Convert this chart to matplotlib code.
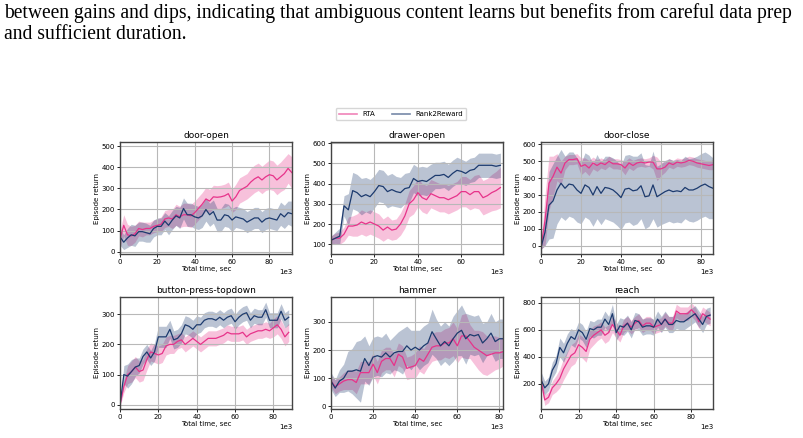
import numpy as np
import matplotlib
matplotlib.use('Agg')
from matplotlib import pyplot as plt
from matplotlib.lines import Line2D
from matplotlib.ticker import MultipleLocator

# time step of the logged curves, in thousands of seconds
step = 2

door_open_rta = [60, 125, 80, 75, 85, 110, 105, 110, 110, 120, 125, 130, 155, 160, 155, 175, 165, 175, 175, 170,
                 185, 205, 225, 250, 240, 260, 258, 260, 265, 275, 240, 260, 290, 300, 310, 330, 345, 355, 340, 355,
                 365, 360, 340, 355, 370, 395, 375]
door_open_rta_std = [40, 50, 50, 45, 40, 35, 35, 30, 30, 30, 30, 35, 40, 40, 45, 50, 50, 55, 55, 55,
                     55, 55, 55, 55, 55, 55, 55, 55, 55, 55, 55, 60, 60, 60, 60, 65, 65, 65, 65, 65,
                     70, 70, 70, 70, 75, 70, 75]
door_open_r2r = [70, 45, 65, 80, 75, 95, 95, 90, 85, 110, 120, 120, 145, 125, 150, 170, 160, 205, 175, 175,
                 165, 160, 170, 200, 175, 190, 150, 150, 175, 170, 150, 165, 160, 155, 140, 150, 160, 160, 140, 155,
                 160, 155, 150, 180, 165, 185, 180]
door_open_r2r_std = [40, 35, 45, 50, 50, 45, 45, 45, 40, 40, 40, 40, 40, 45, 45, 45, 50, 50, 55, 55,
                     55, 55, 55, 55, 55, 55, 55, 55, 55, 55, 55, 50, 50, 50, 50, 50, 50, 50, 50, 50,
                     50, 50, 50, 55, 55, 55, 60]

drawer_open_rta = [120, 130, 130, 150, 190, 190, 195, 210, 200, 210, 200, 190, 170, 185, 170, 175, 200, 240, 300, 320,
                   355, 330, 320, 350, 340, 330, 330, 320, 330, 340, 360, 360, 345, 360, 360, 330, 340, 355, 365, 380]
drawer_open_rta_std = [20, 25, 30, 35, 45, 50, 55, 60, 60, 60, 60, 60, 55, 55, 50, 50, 55, 60, 65, 70,
                       70, 70, 70, 70, 70, 70, 70, 70, 70, 70, 75, 75, 75, 80, 85, 85, 85, 90, 95, 100]
drawer_open_r2r = [120, 130, 140, 290, 270, 365, 355, 335, 345, 335, 360, 390, 385, 360, 370, 360, 355, 375, 380, 425,
                   410, 415, 410, 425, 440, 440, 445, 430, 450, 465, 460, 450, 465, 470, 490, 490, 490, 490, 485, 490]
drawer_open_r2r_std = [20, 30, 40, 50, 80, 90, 90, 90, 85, 85, 80, 80, 80, 80, 80, 75, 75, 75, 75, 70,
                       70, 70, 70, 70, 65, 65, 65, 65, 65, 65, 60, 60, 60, 60, 60, 60, 60, 60, 60, 60]

door_close_rta = [-10, 150, 370, 410, 465, 430, 490, 510, 510, 515, 470, 480, 460, 490, 475, 490, 480, 500, 485, 485,
                  480, 460, 490, 475, 490, 495, 490, 495, 495, 455, 455, 465, 490, 480, 495, 490, 495, 505, 500, 490,
                  485, 480, 475, 480]
door_close_rta_std = [10, 150, 160, 120, 80, 70, 40, 30, 30, 30, 50, 40, 45, 35, 35, 30, 30, 30, 30, 30,
                      30, 40, 30, 30, 25, 25, 25, 25, 40, 70, 40, 30, 25, 25, 25, 25, 25, 25, 25, 25,
                      25, 25, 25, 30]
door_close_r2r = [-10, 80, 240, 265, 330, 370, 340, 365, 360, 330, 310, 360, 345, 300, 350, 310, 345, 340, 330, 310,
                  285, 335, 340, 325, 330, 355, 290, 295, 360, 290, 305, 320, 330, 320, 325, 320, 345, 330, 330, 340,
                  355, 365, 350, 340]
door_close_r2r_std = [10, 80, 200, 220, 200, 200, 190, 190, 195, 190, 180, 190, 190, 185, 190, 185, 185, 190, 190, 190,
                      190, 200, 200, 205, 200, 195, 190, 180, 200, 180, 180, 185, 185, 185, 185, 185, 185, 185, 190, 190,
                      190, 190, 190, 180]

button_rta = [0, 60, 100, 110, 125, 110, 115, 150, 175, 170, 165, 170, 195, 200, 200, 210, 215, 200, 210, 220,
              210, 200, 210, 220, 220, 220, 225, 230, 240, 235, 235, 235, 240, 225, 235, 240, 245, 245, 250, 245,
              255, 265, 250, 225, 240]
button_rta_std = [5, 20, 30, 35, 35, 35, 35, 35, 30, 30, 30, 30, 30, 30, 30, 25, 25, 25, 25, 25,
                  25, 25, 25, 25, 25, 25, 25, 25, 25, 25, 25, 25, 25, 25, 25, 25, 25, 25, 25, 25,
                  30, 30, 30, 30, 30]
button_r2r = [0, 100, 95, 110, 125, 130, 160, 175, 155, 175, 225, 225, 225, 250, 215, 220, 235, 265, 260, 250,
              265, 265, 280, 285, 285, 280, 290, 280, 290, 295, 275, 290, 300, 305, 280, 295, 290, 290, 315, 280,
              280, 280, 310, 280, 290]
button_r2r_std = [5, 30, 40, 40, 30, 25, 25, 25, 25, 30, 35, 35, 35, 30, 30, 30, 30, 30, 30, 30,
                  30, 25, 25, 25, 25, 25, 25, 25, 25, 25, 25, 25, 25, 25, 25, 25, 25, 25, 25, 25,
                  25, 25, 25, 25, 25]

hammer_rta = [90, 70, 80, 90, 95, 95, 85, 120, 120, 120, 150, 120, 160, 170, 170, 145, 185, 175, 135, 140,
              145, 170, 160, 185, 210, 215, 215, 225, 225, 240, 215, 250, 250, 230, 210, 200, 190, 180, 185, 190,
              190, 195]
hammer_rta_std = [20, 25, 25, 30, 35, 35, 40, 40, 40, 40, 40, 40, 40, 40, 40, 40, 40, 40, 40, 40,
                  45, 45, 45, 45, 50, 50, 50, 50, 55, 60, 60, 75, 80, 60, 60, 70, 75, 70, 65, 60,
                  55, 50]
hammer_r2r = [90, 65, 90, 100, 125, 125, 130, 125, 170, 145, 175, 180, 175, 190, 175, 190, 195, 195, 215, 200,
              210, 200, 215, 225, 265, 240, 215, 230, 215, 240, 260, 270, 240, 255, 250, 255, 225, 240, 260, 230,
              240, 240]
hammer_r2r_std = [30, 30, 40, 50, 70, 80, 100, 110, 80, 70, 70, 70, 70, 70, 60, 60, 70, 80, 70, 70,
                  60, 70, 70, 70, 80, 70, 70, 70, 70, 80, 80, 90, 90, 70, 70, 70, 70, 60, 70, 70,
                  70, 70]

reach_rta = [230, 80, 100, 170, 200, 240, 310, 360, 410, 430, 490, 470, 440, 530, 560, 580, 600, 560, 580, 640,
             600, 560, 630, 650, 620, 650, 670, 630, 650, 650, 620, 630, 640, 680, 650, 650, 740, 720, 720, 720,
             750, 720, 660, 720, 700, 680]
reach_rta_std = [40, 40, 40, 50, 60, 70, 80, 80, 80, 80, 80, 80, 80, 70, 70, 60, 60, 60, 60, 60,
                 60, 50, 50, 50, 50, 50, 50, 50, 50, 50, 50, 50, 50, 50, 50, 50, 50, 50, 50, 50,
                 50, 50, 50, 50, 50, 50]
reach_r2r = [230, 170, 200, 300, 350, 470, 430, 500, 550, 530, 600, 580, 530, 610, 600, 620, 620, 680, 640, 720,
             580, 630, 620, 650, 600, 670, 660, 620, 630, 630, 620, 680, 640, 680, 640, 640, 670, 660, 660, 680,
             700, 720, 680, 640, 700, 710]
reach_r2r_std = [60, 50, 50, 60, 60, 70, 70, 70, 60, 60, 60, 60, 60, 60, 60, 60, 60, 60, 60, 70,
                 60, 60, 60, 60, 60, 60, 60, 60, 60, 60, 60, 60, 60, 60, 60, 60, 60, 60, 60, 60,
                 60, 60, 60, 60, 60, 60]

titles = ['door-open', 'drawer-open', 'door-close', 'button-press-topdown', 'hammer', 'reach']
x_max = [92.1, 79.2, 86.0, 89.7, 81.7, 91.5]
y_lims = [(-11, 520), (52, 605), (-49, 614), (-14, 357), (-9, 388), (13, 844)]
y_ticks = [[0, 100, 200, 300, 400, 500], [100, 200, 300, 400, 500, 600], [0, 100, 200, 300, 400, 500, 600],
           [0, 100, 200, 300], [0, 100, 200, 300], [200, 400, 600, 800]]

rta_curves = [(door_open_rta, door_open_rta_std), (drawer_open_rta, drawer_open_rta_std),
              (door_close_rta, door_close_rta_std), (button_rta, button_rta_std),
              (hammer_rta, hammer_rta_std), (reach_rta, reach_rta_std)]
r2r_curves = [(door_open_r2r, door_open_r2r_std), (drawer_open_r2r, drawer_open_r2r_std),
              (door_close_r2r, door_close_r2r_std), (button_r2r, button_r2r_std),
              (hammer_r2r, hammer_r2r_std), (reach_r2r, reach_r2r_std)]

rta_color = '#e7338a'
r2r_color = '#1c3a6e'

W, H = 804, 438
fig = plt.figure(figsize=(W / 100, H / 100), dpi=100)

fig.text(4 / W, 1 - 18 / H, 'between gains and dips, indicating that ambiguous content learns but benefits from careful data prep',
         family='Liberation Serif', fontsize=14.1, color='black')
fig.text(4 / W, 1 - 39 / H, 'and sufficient duration.', family='Liberation Serif', fontsize=14.1, color='black')

lefts = [120, 331, 541]
tops = [142, 297]
for i, title in enumerate(titles):
    row, col = divmod(i, 3)
    ax = fig.add_axes([lefts[col] / W, 1 - (tops[row] + 112) / H, 172 / W, 112 / H])
    for (mean, std), color in [(rta_curves[i], rta_color), (r2r_curves[i], r2r_color)]:
        mean = np.array(mean)
        std = np.array(std)
        t = np.arange(len(mean)) * step * 1000
        ax.fill_between(t, mean - std, mean + std, color=color, alpha=0.3, linewidth=0)
        ax.plot(t, mean, color=color, linewidth=0.9)
    ax.set_xlim(0, x_max[i] * 1000)
    ax.xaxis.set_major_locator(MultipleLocator(20000))
    ax.set_ylim(*y_lims[i])
    ax.set_yticks(y_ticks[i])
    ax.ticklabel_format(style='sci', axis='x', scilimits=(3, 3))
    ax.xaxis.get_offset_text().set_fontsize(5)
    ax.grid(True, color='#b8b8b8', linewidth=0.8)
    ax.tick_params(labelsize=5, length=2, width=0.6, pad=1.5)
    for s in ax.spines.values():
        s.set_color('#444444')
        s.set_linewidth(1.0)
    ax.set_title(title, fontsize=6.5, pad=3)
    ax.set_xlabel('Total time, sec', fontsize=5, labelpad=1)
    ax.set_ylabel('Episode return', fontsize=5, labelpad=1)

handles = [Line2D([], [], color=rta_color, alpha=0.6, linewidth=1.2),
           Line2D([], [], color=r2r_color, alpha=0.6, linewidth=1.2)]
fig.legend(handles, ['RTA', 'Rank2Reward'], loc='center', bbox_to_anchor=(401 / W, 1 - 114 / H),
           ncol=2, fontsize=5, frameon=True, handlelength=2.5, columnspacing=2.5, borderpad=0.5)

fig.savefig('out.png', dpi=100)
